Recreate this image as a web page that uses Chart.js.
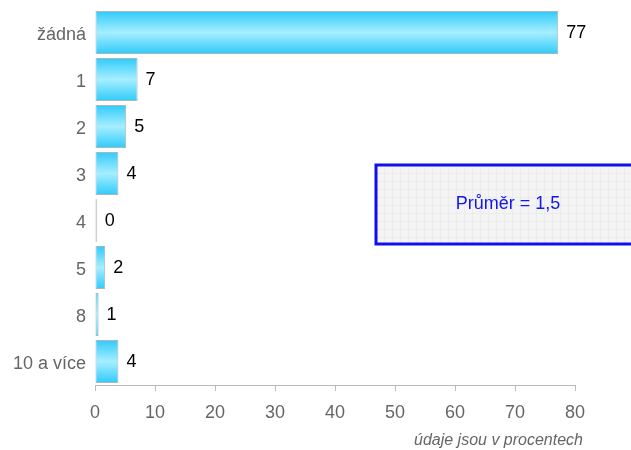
<!DOCTYPE html>
<html>
<head>
<meta charset="utf-8">
<script src="https://cdn.jsdelivr.net/npm/chart.js@4.4.1/dist/chart.umd.min.js"></script>
<style>
  html, body { margin: 0; padding: 0; background: #fff; }
  #wrap { width: 631px; height: 450px; }
</style>
</head>
<body>
<div id="wrap"><canvas id="chart" width="631" height="450"></canvas></div>
<script>
const categories = ['žádná', '1', '2', '3', '4', '5', '8', '10 a více'];
const values = [77.2, 7.1, 5.2, 3.9, 0.3, 1.7, 0.6, 3.9];
const valueLabels = ['77', '7', '5', '4', '0', '2', '1', '4'];
const xTicks = [0, 10, 20, 30, 40, 50, 60, 70, 80];
const averageText = 'Průměr = 1,5';
const footnote = 'údaje jsou v procentech';

const FONT = '"Liberation Sans", Arial, sans-serif';

// gradient per bar + value labels + average box + footnote
const decorate = {
    id: 'decorate',
    beforeDatasetsDraw(chart) {
        const ctx = chart.ctx;
        chart.getDatasetMeta(0).data.forEach(bar => {
            const top = bar.y - bar.height / 2;
            const bottom = bar.y + bar.height / 2;
            const g = ctx.createLinearGradient(0, top, 0, bottom);
            g.addColorStop(0, '#2ecbfb');
            g.addColorStop(0.5, '#a6eeff');
            g.addColorStop(1, '#2ecbfb');
            bar.options.backgroundColor = g;
        });
    },
    afterDatasetsDraw(chart) {
        const ctx = chart.ctx;
        ctx.save();
        ctx.font = '18px ' + FONT;
        ctx.fillStyle = '#000';
        ctx.textBaseline = 'middle';
        ctx.textAlign = 'left';
        chart.getDatasetMeta(0).data.forEach((bar, i) => {
            ctx.fillText(valueLabels[i], bar.x + 8, bar.y + 1);
        });
        ctx.restore();
    },
    afterDraw(chart) {
        const ctx = chart.ctx;
        ctx.save();
        // average box
        const bx = 376, by = 165, bw = 262, bh = 79;
        ctx.fillStyle = '#f4f4f4';
        ctx.fillRect(bx, by, bw, bh);
        ctx.strokeStyle = '#ececec';
        ctx.lineWidth = 1;
        for (let x = bx + 8; x < bx + bw; x += 8) {
            ctx.beginPath(); ctx.moveTo(x + 0.5, by); ctx.lineTo(x + 0.5, by + bh); ctx.stroke();
        }
        for (let y = by + 8; y < by + bh; y += 8) {
            ctx.beginPath(); ctx.moveTo(bx, y + 0.5); ctx.lineTo(bx + bw, y + 0.5); ctx.stroke();
        }
        ctx.strokeStyle = '#1010ee';
        ctx.lineWidth = 3;
        ctx.strokeRect(bx, by, bw, bh);
        ctx.fillStyle = '#1515ee';
        ctx.font = '18px ' + FONT;
        ctx.textAlign = 'center';
        ctx.textBaseline = 'middle';
        ctx.fillText(averageText, 508, 204);
        // footnote
        ctx.fillStyle = '#666';
        ctx.font = 'italic 16px ' + FONT;
        ctx.textAlign = 'right';
        ctx.textBaseline = 'alphabetic';
        ctx.fillText(footnote, 583, 445);
        ctx.restore();
    }
};

new Chart(document.getElementById('chart'), {
    type: 'bar',
    data: {
        labels: categories,
        datasets: [{
            data: values,
            backgroundColor: () => '#33ccff',
            borderColor: '#a9b6bb',
            borderWidth: 1,
            borderSkipped: false,
            barPercentage: 0.92,
            categoryPercentage: 1
        }]
    },
    options: {
        indexAxis: 'y',
        responsive: false,
        animation: false,
        layout: { padding: { top: 9, right: 56, left: 0, bottom: 0 } },
        plugins: { legend: { display: false }, tooltip: { enabled: false } },
        scales: {
            x: {
                min: 0,
                max: 80,
                afterBuildTicks: axis => { axis.ticks = xTicks.map(v => ({ value: v })); },
                afterFit: axis => { axis.height = 65; axis.paddingLeft = 0; axis.paddingRight = 0; },
                grid: { display: true, drawOnChartArea: false, drawTicks: true, tickLength: 6, color: '#bbb' },
                border: { display: true, color: '#bbb', width: 1 },
                ticks: { color: '#666', font: { size: 18, family: FONT }, padding: 11 }
            },
            y: {
                afterFit: axis => { axis.width = 95; axis.paddingTop = 0; axis.paddingBottom = 0; },
                grid: { display: false, drawTicks: false },
                border: { display: false },
                ticks: { color: '#666', font: { size: 18, family: FONT }, padding: 9, labelOffset: 3 }
            }
        }
    },
    plugins: [decorate]
});
</script>
</body>
</html>
